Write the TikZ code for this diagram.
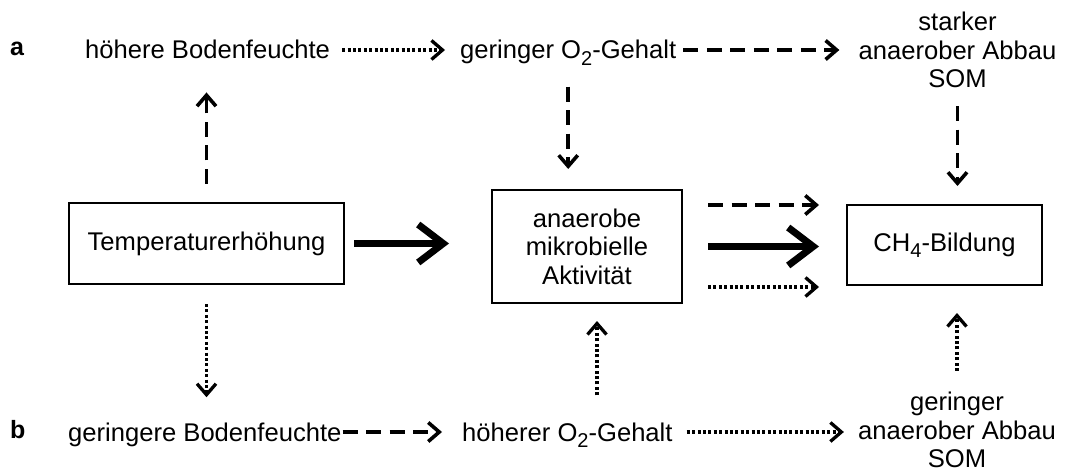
\documentclass[tikz,border=0pt]{standalone}
\usepackage{fontspec}
\setmainfont{Liberation Sans}
\usetikzlibrary{arrows.meta}
% lowered index digit, as in O2 and CH4
\newcommand{\lowidx}[1]{\raisebox{-6.5pt}{\fontsize{20}{20}\selectfont #1}}
\begin{document}
\begin{tikzpicture}[x=1pt,y=-1pt,
  every node/.style={inner sep=0pt, font=\fontsize{25.6}{29}\selectfont},
  panel/.style={font=\fontsize{25}{25}\selectfont\bfseries},
  box/.style={draw, line width=2pt, align=center},
  lines/.style={align=center, font=\fontsize{25.6}{28.5}\selectfont},
  tip/.style={-{Straight Barb[length=11pt,width=19pt]}},
  dsh/.style={line width=3.6pt, tip, dash pattern=on 15pt off 8.5pt},
  dot/.style={line width=3.3pt, tip, dash pattern=on 3pt off 2.4pt},
  heavy/.style={line width=7pt, -{Straight Barb[length=25pt,width=38pt]}}
]
\useasboundingbox (0,0) rectangle (1066,473);

% row a
\node[panel, anchor=base west] (la) at (10,56) {a};
\node[anchor=base west] (hB) at (85,59) {höhere Bodenfeuchte};
\node[anchor=base west] (gO) at (460,59) {geringer O\lowidx{2}-Gehalt};
\node[lines] (sA) at (957.5,50) {starker\\anaerober Abbau\\SOM};

% middle row
\node[box, minimum width=275pt, minimum height=81pt] (T) at (206.5,243.5) {Temperaturerhöhung};
\node[box, lines, minimum width=190pt, minimum height=113pt] (M) at (587,246.5) {anaerobe\\mikrobielle\\Aktivität};
\node[box, minimum width=195pt, minimum height=80pt] (C) at (944.5,245) {CH\lowidx{4}-Bildung};

% row b
\node[panel, anchor=base west] (lb) at (10,438) {b};
\node[anchor=base west] (gB) at (68,441) {geringere Bodenfeuchte};
\node[anchor=base west] (hO) at (462,441) {höherer O\lowidx{2}-Gehalt};
\node[lines] (gA) at (957,430) {geringer\\anaerober Abbau\\SOM};

% row a connectors
\draw[dot, shorten <=12pt, shorten >=15pt] ([yshift=9pt]hB.base east) -- ([yshift=9pt]gO.base west);
\draw[dsh, shorten <=7pt, shorten >=19pt] ([yshift=9pt]gO.base east) -- ([yshift=9pt]gO.base east -| sA.west);
\draw[dsh, shorten <=21pt, shorten >=20pt] (gO.south) -- (gO.south |- M.north);
\draw[dsh, shorten <=18pt, shorten >=18pt] (sA.south) -- (sA.south |- C.north);

% middle row connectors
\draw[dsh, shorten <=18pt, shorten >=33pt] (T.north) -- (T.north |- hB.south);
\draw[heavy, shorten <=9pt, shorten >=42pt] (T.east) -- (T.east -| M.west);
\draw[dsh, shorten <=25pt, shorten >=27pt] ([yshift=41.5pt]M.east) -- ([yshift=41.5pt]M.east -| C.west);
\draw[heavy, shorten <=25pt, shorten >=27pt] (M.east) -- (M.east -| C.west);
\draw[dot, shorten <=25pt, shorten >=27pt] ([yshift=-40.5pt]M.east) -- ([yshift=-40.5pt]M.east -| C.west);
\draw[dot, shorten <=19pt, shorten >=25pt] (T.south) -- (T.south |- gB.north);

% row b connectors
\draw[dot, shorten <=27pt, shorten >=17pt] ([xshift=10pt]M.south |- hO.north) -- ([xshift=10pt]M.south);
\draw[dot, shorten <=21pt, shorten >=27pt] (gA.north) -- (gA.north |- C.south);
\draw[dsh, shorten <=1pt, shorten >=20pt] ([yshift=9pt]gB.base east) -- ([yshift=9pt]hO.base west);
\draw[dot, shorten <=14pt, shorten >=14pt] ([yshift=9pt]hO.base east) -- ([yshift=9pt]hO.base east -| gA.west);
\end{tikzpicture}
\end{document}
